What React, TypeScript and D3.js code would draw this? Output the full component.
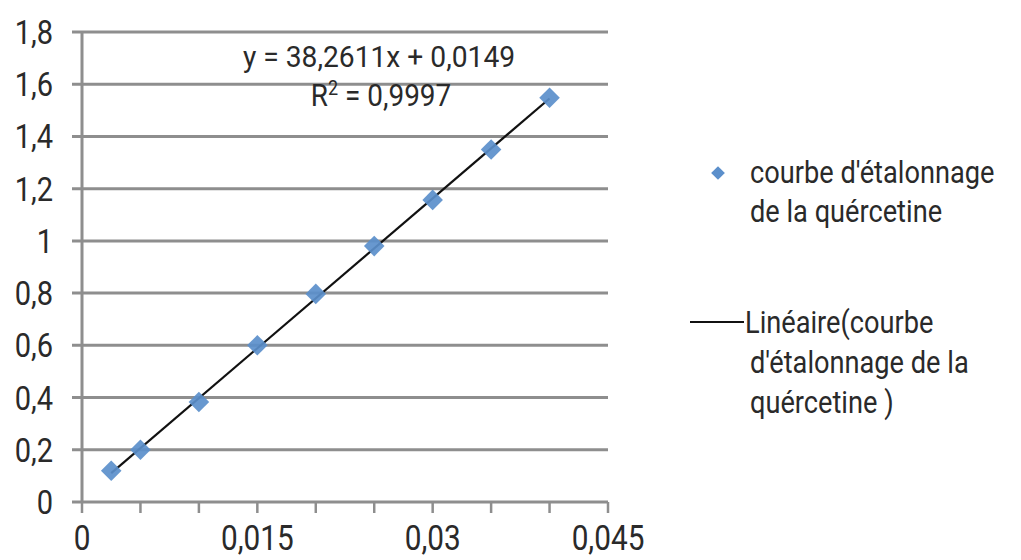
import React from "react";
import * as d3 from "d3";

const concentrations = [0.0025, 0.005, 0.01, 0.015, 0.02, 0.025, 0.03, 0.035, 0.04];
const absorbances = [0.12, 0.2, 0.383, 0.6, 0.797, 0.98, 1.157, 1.35, 1.548];
const slope = 38.2611;
const intercept = 0.0149;
const xTickValues = [0, 0.005, 0.01, 0.015, 0.02, 0.025, 0.03, 0.035, 0.04, 0.045];
const xLabelValues = [0, 0.015, 0.03, 0.045];
const yTickValues = [0, 0.2, 0.4, 0.6, 0.8, 1, 1.2, 1.4, 1.6, 1.8];
const equationText = "y = 38,2611x + 0,0149";
const r2Value = "0,9997";
const legendSeries = ["courbe d'étalonnage", "de la quércetine"];
const legendTrend = ["Linéaire(courbe", "d'étalonnage de la", "quércetine )"];

const fmt = (v: number) => String(+v.toFixed(4)).replace(".", ",");

export default function App() {
  const W = 1021, H = 560;
  const x = d3.scaleLinear().domain([0, 0.045]).range([82, 608]);
  const y = d3.scaleLinear().domain([0, 1.8]).range([502, 32]);
  const grid = "#8e8e8e";
  const txt = "#2a2a2a";
  const font = "Roboto, 'Liberation Sans', sans-serif";
  const blue = "#5b8fcb";
  const diamond = d3.symbol().type(d3.symbolDiamond2).size(270);
  const legendDiamond = d3.symbol().type(d3.symbolDiamond2).size(120);
  const x0 = d3.min(concentrations)!;
  const x1 = d3.max(concentrations)!;
  const fitLine = d3.line<number>().x((d) => x(d)).y((d) => y(slope * d + intercept));

  return (
    <svg width={W} height={H} style={{ position: "absolute", left: 0, top: 0, background: "#fff" }} fontFamily={font}>
      <rect width={W} height={H} fill="#fff" />
      {yTickValues.map((v) => (
        <line key={"g" + v} x1={72} x2={x.range()[1]} y1={y(v)} y2={y(v)} stroke={grid} strokeWidth={3} />
      ))}
      <line x1={x.range()[0]} x2={x.range()[0]} y1={y(1.8)} y2={y(0)} stroke={grid} strokeWidth={3} />
      {xTickValues.map((v) => (
        <line key={"t" + v} x1={x(v)} x2={x(v)} y1={y(0)} y2={y(0) + 11} stroke={grid} strokeWidth={2.5} />
      ))}
      {yTickValues.map((v) => (
        <text key={"yl" + v} transform={`translate(53,${y(v) + 12}) scale(0.88,1)`} textAnchor="end" fontSize={33} fill={txt}>
          {fmt(v)}
        </text>
      ))}
      {xLabelValues.map((v) => (
        <text key={"xl" + v} transform={`translate(${x(v)},550) scale(0.85,1)`} textAnchor="middle" fontSize={35} fill={txt}>
          {fmt(v)}
        </text>
      ))}
      <path d={fitLine([x0, x1])!} stroke="#111" strokeWidth={2.2} fill="none" />
      {concentrations.map((c, i) => (
        <path key={"p" + i} d={diamond()!} transform={`translate(${x(c)},${y(absorbances[i])})`} fill={blue} opacity={0.92} />
      ))}
      <text transform="translate(379,67) scale(0.94,1)" textAnchor="middle" fontSize={30} fill={txt}>
        {equationText}
      </text>
      <text transform="translate(381,106) scale(0.9,1)" textAnchor="middle" fontSize={31} fill={txt}>
        R<tspan fontSize={20} dy={-11}>2</tspan>
        <tspan dy={11}>{" = " + r2Value}</tspan>
      </text>
      <path d={legendDiamond()!} transform="translate(718,173)" fill={blue} />
      {legendSeries.map((s, i) => (
        <text key={"ls" + i} transform={`translate(750,${183 + i * 39}) scale(0.85,1)`} fontSize={32} fill={txt}>
          {s}
        </text>
      ))}
      <line x1={690} x2={744} y1={322} y2={322} stroke="#111" strokeWidth={2.2} />
      {legendTrend.map((s, i) => (
        <text key={"lt" + i} transform={`translate(${i === 0 ? 745 : 750},${333 + i * 40}) scale(0.85,1)`} fontSize={32} fill={txt}>
          {s}
        </text>
      ))}
    </svg>
  );
}
